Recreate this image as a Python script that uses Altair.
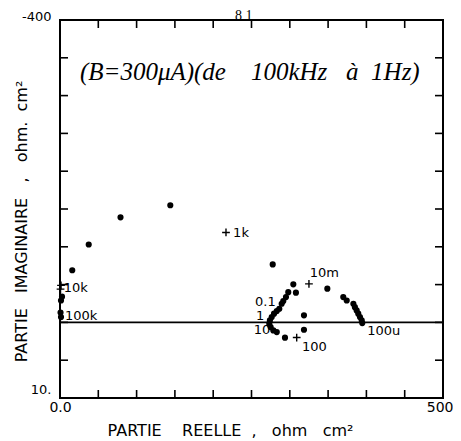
import altair as alt
import pandas as pd

# ---- data ----
circ_x = [144, 79, 37.5, 16, 2.6, 1.3, 0.7, 1.3,
          277.7, 304.6, 308, 298, 295, 291.5, 289.4, 286.3, 283, 279.4, 276.4, 274,
          273.2, 275, 278.5, 283, 293.7, 318.5, 318.5,
          349, 369.8, 374.3, 383, 385, 387.3, 389.4, 391.6, 393.9, 394.6]
circ_y = [-155, -139, -103, -69, -34, -29, -13, -7,
          -76.7, -50.3, -39.3, -40, -33.5, -28.2, -24.7, -18.1, -15, -11.5, -7, -2.6,
          1.7, 6.2, 10.6, 12.8, 20.2, 9.7, -9.3,
          -44.6, -33.5, -29, -24.7, -20.2, -15.9, -11.5, -7, -2.6, 0.9]

cross_x = [1.3, 0.7, 216.7, 325, 309]
cross_y = [-49, -44, -119, -51, 20]

lab_text = ["10k", "100k", "1k", "10m", "0.1", "1", "10", "100", "100u"]
lab_x = [5, 6.5, 226, 326, 254.6, 256, 253, 316, 401]
lab_y = [-46, -9, -118, -65, -26.5, -8, 10.6, 33, 12]

x_ticks = [50, 100, 150, 200, 250, 300, 350, 400, 450]
y_ticks = [-350, -300, -250, -200, -150, -100, -50, 0, 50]
x_label_vals = [0, 500]
y_label_vals = [-400, 100]

NB = "\u00a0"
title_text = "(B=300\u03bcA)(de" + NB * 4 + "100kHz" + NB * 3 + "\u00e0" + NB * 2 + "1Hz)"
page_text = "8 1"
x_title = "PARTIE" + NB * 4 + "REELLE" + NB * 2 + "," + NB * 3 + "ohm" + NB * 3 + "cm\u00b2"
y_title = "PARTIE" + NB * 3 + "IMAGINAIRE" + NB * 3 + "," + NB * 3 + "ohm." + NB * 2 + "cm\u00b2"

W, H = 383, 378

xs = alt.Scale(domain=[0, 500], nice=False, zero=False)
ys = alt.Scale(domain=[-400, 100], nice=False, zero=False, reverse=True)

x_axis = alt.Axis(values=x_label_vals, labelExpr="datum.value == 0 ? '0.0' : '500'",
                  ticks=False, domain=False, grid=False, labelFlush=False,
                  labelAlign={"condition": {"test": "datum.value == 500", "value": "right"},
                              "value": "center"},
                  labelOffset={"condition": {"test": "datum.value == 500", "value": 10},
                               "value": 0},
                  labelFont="DejaVu Sans", labelFontSize=14, labelColor="black",
                  labelPadding=2,
                  title=x_title, titleFont="DejaVu Sans",
                  titleFontSize=16, titleFontWeight="normal", titleColor="black",
                  titleX=170, titleY=32, titleBaseline="middle")
y_axis = alt.Axis(values=y_label_vals, labelExpr="datum.value == -400 ? '-400' : '10.'",
                  ticks=False, domain=False, grid=False, labelFlush=False,
                  labelBaseline="alphabetic", labelPadding=9,
                  labelOffset={"condition": {"test": "datum.value == 100", "value": -5},
                               "value": 0},
                  labelFont="DejaVu Sans", labelFontSize=13, labelColor="black",
                  title=y_title, titleFont="DejaVu Sans",
                  titleFontSize=16, titleFontWeight="normal", titleColor="black",
                  titleX=-39, titleY=201, titleAlign="center", titleBaseline="middle",
                  titleAngle=-90)

circ_df = pd.DataFrame({"x": circ_x, "y": circ_y})
cross_df = pd.DataFrame({"x": cross_x, "y": cross_y})
lab_df = pd.DataFrame({"t": lab_text, "x": lab_x, "y": lab_y})
xt_df = pd.DataFrame({"v": x_ticks})
yt_df = pd.DataFrame({"v": y_ticks})
one = pd.DataFrame({"a": [0]})

points = alt.Chart(circ_df).mark_circle(size=38, color="black", opacity=1).encode(
    x=alt.X("x:Q", scale=xs, axis=x_axis),
    y=alt.Y("y:Q", scale=ys, axis=y_axis),
)

crosses = alt.Chart(cross_df).mark_point(
    shape="M-1,0L1,0M0,-1L0,1", size=60, filled=False, color="black",
    strokeWidth=1.4, opacity=1).encode(
    x=alt.X("x:Q", scale=xs), y=alt.Y("y:Q", scale=ys))

labels = alt.Chart(lab_df).mark_text(
    align="left", baseline="middle", font="DejaVu Sans", fontSize=13,
    color="black").encode(
    x=alt.X("x:Q", scale=xs), y=alt.Y("y:Q", scale=ys), text="t:N")

zero_line = alt.Chart(one).mark_rule(color="black", strokeWidth=1.6).encode(
    y=alt.datum(0, scale=ys), x=alt.datum(0, scale=xs), x2=alt.datum(500))

tick_b = alt.Chart(xt_df).mark_rule(color="black", strokeWidth=1.6).encode(
    x=alt.X("v:Q", scale=xs), y=alt.value(H), y2=alt.value(H - 8))
tick_t = alt.Chart(xt_df).mark_rule(color="black", strokeWidth=1.6).encode(
    x=alt.X("v:Q", scale=xs), y=alt.value(0), y2=alt.value(8))
tick_l = alt.Chart(yt_df).mark_rule(color="black", strokeWidth=1.6).encode(
    y=alt.Y("v:Q", scale=ys), x=alt.value(0), x2=alt.value(8))
tick_r = alt.Chart(yt_df).mark_rule(color="black", strokeWidth=1.6).encode(
    y=alt.Y("v:Q", scale=ys), x=alt.value(W), x2=alt.value(W - 8))

title = alt.Chart(one).mark_text(
    align="left", baseline="middle", font="Liberation Serif", fontStyle="italic",
    fontSize=25, color="black").encode(
    x=alt.datum(26, scale=xs), y=alt.datum(-331, scale=ys), text=alt.value(title_text))

page = alt.Chart(one).mark_text(
    align="center", baseline="top", font="Liberation Serif", fontSize=14,
    color="black").encode(
    x=alt.datum(240, scale=xs), y=alt.datum(-415, scale=ys), text=alt.value(page_text))

chart = alt.layer(
    zero_line, tick_b, tick_t, tick_l, tick_r, points, crosses, labels, title, page
).properties(
    width=W, height=H,
    autosize=alt.AutoSizeParams(type="none"),
    padding={"left": 52, "top": 12, "right": 10, "bottom": 43},
    background="white",
).configure_view(stroke="black", strokeWidth=2)

chart.save("out.html", embed_options={"renderer": "svg", "actions": False})
